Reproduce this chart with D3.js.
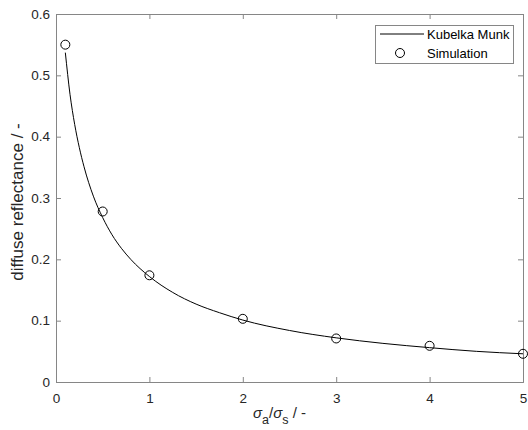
<!DOCTYPE html>
<html>
<head>
<meta charset="utf-8">
<script src="https://cdn.jsdelivr.net/npm/d3@7"></script>
<style>
    body { margin: 0; background: #fff; }
    svg { font-family: Arial, "Liberation Sans", sans-serif; }
</style>
</head>
<body>
<div id="chart"></div>
<script>
// curve samples (sigma_a/sigma_s, reflectance)
var kmX = [0.1, 0.15, 0.2, 0.25, 0.3, 0.4, 0.5, 0.6, 0.7, 0.8, 1, 1.25, 1.5, 1.75, 2, 2.5, 3, 3.5, 4, 4.5, 5];
var kmY = [0.537, 0.469, 0.420, 0.382, 0.351, 0.303, 0.268, 0.240, 0.218, 0.200, 0.172, 0.146, 0.127, 0.113, 0.101, 0.084, 0.072, 0.063, 0.056, 0.050, 0.046];
// simulation points
var simX = [0.1, 0.5, 1, 2, 3, 4, 5];
var simY = [0.550, 0.278, 0.174, 0.103, 0.071, 0.059, 0.046];
var xTicks = [0, 1, 2, 3, 4, 5];
var yTicks = [0, 0.1, 0.2, 0.3, 0.4, 0.5, 0.6];
var legendLabels = ["Kubelka Munk", "Simulation"];

function init() {
    var w = 528, h = 430;
    var left = 56, right = 523, top = 14, bottom = 382;
    var tick = 5;

    var svg = d3.select("#chart").append("svg").attr("width", w).attr("height", h);

    var xScale = d3.scaleLinear().domain([0, 5]).range([left, right]);
    var yScale = d3.scaleLinear().domain([0, 0.6]).range([bottom, top]);

    var axisColor = "#868686";
    var textColor = "#262626";

    // axes (ticks inside, box on)
    var xAxis = d3.axisBottom(xScale).tickValues(xTicks).tickSize(-tick).tickPadding(11).tickFormat(d3.format("d"));
    var yAxis = d3.axisLeft(yScale).tickValues(yTicks).tickSize(-tick).tickPadding(6).tickFormat(d => d === 0 ? "0" : d3.format(".1f")(d));
    var xTop = d3.axisTop(xScale).tickValues(xTicks).tickSize(-tick).tickFormat("");
    var yRight = d3.axisRight(yScale).tickValues(yTicks).tickSize(-tick).tickFormat("");

    function styleAxis(g) {
        g.selectAll("path").attr("stroke", axisColor).attr("stroke-width", 1);
        g.selectAll("line").attr("stroke", axisColor);
        g.selectAll("text").attr("fill", textColor).style("font-size", "13.5px");
    }

    svg.append("g").attr("transform", "translate(0," + bottom + ")").call(xAxis).call(styleAxis);
    svg.append("g").attr("transform", "translate(" + left + ",0)").call(yAxis).call(styleAxis);
    svg.append("g").attr("transform", "translate(0," + top + ")").call(xTop).call(styleAxis);
    svg.append("g").attr("transform", "translate(" + right + ",0)").call(yRight).call(styleAxis);

    // Kubelka Munk curve
    var line = d3.line()
        .x((d, i) => xScale(kmX[i]))
        .y((d, i) => yScale(kmY[i]))
        .curve(d3.curveMonotoneX);
    svg.append("path").attr("d", line(kmX)).attr("fill", "none").attr("stroke", "#000").attr("stroke-width", 1);

    // simulation markers
    svg.append("g").selectAll("circle").data(simX).enter().append("circle")
        .attr("cx", (d, i) => xScale(d))
        .attr("cy", (d, i) => yScale(simY[i]))
        .attr("r", 4.5)
        .attr("fill", "none")
        .attr("stroke", "#000")
        .attr("stroke-width", 1);

    // axis labels
    svg.append("text")
        .attr("transform", "translate(23,202) rotate(-90)")
        .attr("text-anchor", "middle")
        .attr("fill", textColor)
        .style("font-size", "17px")
        .text("diffuse reflectance / -");

    var xl = svg.append("text")
        .attr("x", 253)
        .attr("y", 418)
        .attr("fill", textColor)
        .style("font-size", "15px");
    xl.append("tspan").style("font-style", "italic").text("σ");
    xl.append("tspan").attr("dy", 6).style("font-size", "12.5px").text("a");
    xl.append("tspan").attr("dy", -6).text("/");
    xl.append("tspan").style("font-style", "italic").text("σ");
    xl.append("tspan").attr("dy", 6).style("font-size", "12.5px").text("s");
    xl.append("tspan").attr("dy", -6).text(" / -");

    // legend
    var lg = svg.append("g");
    lg.append("rect").attr("x", 375.5).attr("y", 25.5).attr("width", 138).attr("height", 38)
        .attr("fill", "#fff").attr("stroke", axisColor).attr("stroke-width", 1);
    lg.append("line").attr("x1", 380).attr("x2", 424).attr("y1", 34).attr("y2", 34)
        .attr("stroke", "#000").attr("stroke-width", 1);
    lg.append("circle").attr("cx", 400).attr("cy", 53).attr("r", 4.5)
        .attr("fill", "none").attr("stroke", "#000");
    lg.selectAll("text").data(legendLabels).enter().append("text")
        .attr("x", 427)
        .attr("y", (d, i) => 38.5 + i * 19)
        .attr("fill", "#000")
        .style("font-size", "13px")
        .text(d => d);
}
window.onload = init;
</script>
</body>
</html>
